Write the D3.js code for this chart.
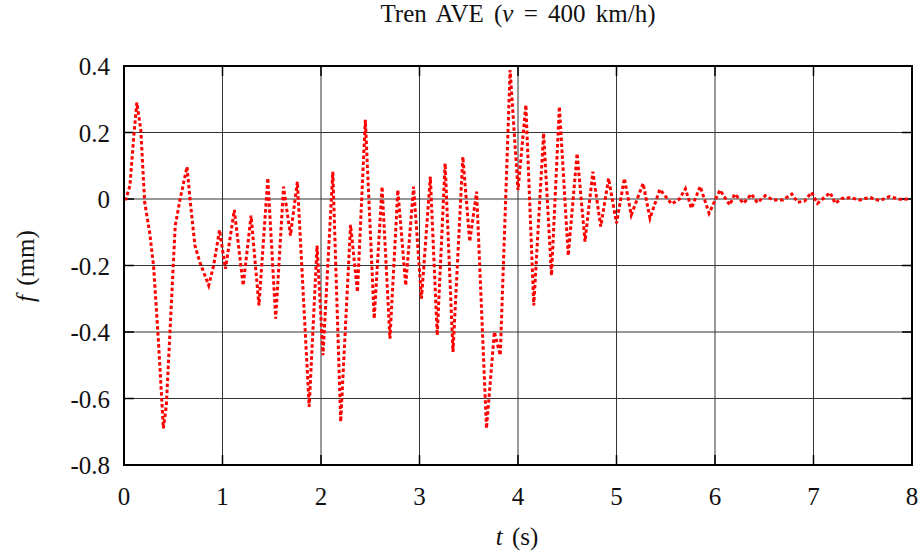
<!DOCTYPE html>
<html lang="es">
<head>
    <meta charset="UTF-8">
    <title>Tren AVE (v = 400 km/h)</title>
    <script src="https://cdnjs.cloudflare.com/ajax/libs/d3/7.8.5/d3.min.js"></script>
    <style>
        body {
            margin: 0;
            padding: 0;
            background-color: #fff;
        }
        svg text {
            font-family: "Liberation Serif", "DejaVu Serif", serif;
            fill: #111;
        }
        .grid line {
            stroke: #333;
            stroke-width: 1px;
        }
    </style>
</head>
<body>
    <div id="chart"></div>

    <script>
        // tiempo (s) y flecha (mm)
        const tiempos = [
            0, 0.02, 0.06, 0.10, 0.13, 0.17, 0.21, 0.26, 0.30, 0.35, 0.40, 0.43, 0.47, 0.52, 0.57, 0.64,
            0.67, 0.72, 0.77, 0.86, 0.91, 0.97, 1.03, 1.12, 1.21, 1.29, 1.37, 1.46, 1.54, 1.62, 1.69,
            1.76, 1.88, 1.96, 2.02, 2.12, 2.20, 2.30, 2.37, 2.45, 2.54, 2.62, 2.70, 2.78, 2.86, 2.94,
            3.02, 3.11, 3.18, 3.26, 3.34, 3.44, 3.51, 3.58, 3.68, 3.76, 3.82, 3.92, 4.00, 4.08, 4.16,
            4.26, 4.34, 4.42, 4.51, 4.60, 4.68, 4.76, 4.84, 4.92, 5.00, 5.08, 5.15, 5.27, 5.34, 5.44,
            5.56, 5.64, 5.70, 5.76, 5.85, 5.94, 6.05, 6.15, 6.20, 6.29, 6.37, 6.43, 6.51, 6.59, 6.69,
            6.78, 6.84, 6.91, 6.98, 7.04, 7.17, 7.22, 7.29, 7.37, 7.47, 7.57, 7.67, 7.77, 7.88, 7.98
        ];
        const flechas = [
            0, 0, 0.04, 0.19, 0.29, 0.21, -0.01, -0.1, -0.2, -0.43, -0.69, -0.62, -0.38, -0.08, 0.0, 0.097,
            0.0, -0.14, -0.19, -0.26, -0.2, -0.093, -0.21, -0.033, -0.26, -0.05, -0.32, 0.063, -0.36, 0.037, -0.11,
            0.052, -0.625, -0.14, -0.47, 0.082, -0.67, -0.078, -0.28, 0.238, -0.36, 0.037, -0.42, 0.027, -0.26, 0.037,
            -0.30, 0.067, -0.41, 0.107, -0.46, 0.127, -0.128, 0.022, -0.69, -0.40, -0.47, 0.388, 0.027, 0.283, -0.32,
            0.198, -0.23, 0.278, -0.17, 0.137, -0.128, 0.082, -0.083, 0.062, -0.073, 0.062, -0.048, 0.047, -0.058, 0.029,
            -0.015, 0, 0.031, -0.028, 0.038, -0.043, 0.027, -0.018, 0.015, -0.013, 0.015, -0.011, 0.01, -0.003, -0.003,
            0.015, -0.01, -0.006, 0.02, -0.013, 0.019, -0.013, 0.002, 0.004, -0.003, 0.005, -0.005, 0.007, -0.001, 0
        ];
        const ticksX = [0, 1, 2, 3, 4, 5, 6, 7, 8];
        const ticksY = [0.4, 0.2, 0, -0.2, -0.4, -0.6, -0.8];

        const width = 922;
        const height = 558;
        const margin = { top: 66, right: 10, bottom: 93, left: 124 };

        const svg = d3.select("#chart")
            .append("svg")
            .attr("width", width)
            .attr("height", height);

        const x = d3.scaleLinear().domain([0, 8]).range([margin.left, width - margin.right]);
        const y = d3.scaleLinear().domain([-0.8, 0.4]).range([height - margin.bottom, margin.top]);

        // rejilla
        const grid = svg.append("g").attr("class", "grid");
        grid.selectAll(".gx")
            .data(ticksX)
            .enter().append("line")
            .attr("x1", d => x(d)).attr("x2", d => x(d))
            .attr("y1", y(-0.8)).attr("y2", y(0.4));
        grid.selectAll(".gy")
            .data(ticksY)
            .enter().append("line")
            .attr("x1", x(0)).attr("x2", x(8))
            .attr("y1", d => y(d)).attr("y2", d => y(d));

        // marcas cortas en el borde (como gnuplot)
        const marcas = svg.append("g").attr("stroke", "#000").attr("stroke-width", 1.5);
        ticksX.forEach(d => {
            marcas.append("line").attr("x1", x(d)).attr("x2", x(d)).attr("y1", y(-0.8)).attr("y2", y(-0.8) - 10);
            marcas.append("line").attr("x1", x(d)).attr("x2", x(d)).attr("y1", y(0.4)).attr("y2", y(0.4) + 10);
        });
        ticksY.forEach(d => {
            marcas.append("line").attr("x1", x(0)).attr("x2", x(0) + 10).attr("y1", y(d)).attr("y2", y(d));
            marcas.append("line").attr("x1", x(8)).attr("x2", x(8) - 10).attr("y1", y(d)).attr("y2", y(d));
        });

        // curva
        const datos = tiempos.map((t, i) => ({ t: t, f: flechas[i] }));
        const linea = d3.line().x(d => x(d.t)).y(d => y(d.f));

        svg.append("path")
            .datum(datos)
            .attr("d", linea)
            .attr("fill", "none")
            .attr("stroke", "#ff0000")
            .attr("stroke-width", 3)
            .attr("stroke-dasharray", "3.5,2.5")
            .attr("stroke-linejoin", "miter");

        // marco
        svg.append("rect")
            .attr("x", x(0)).attr("y", y(0.4))
            .attr("width", x(8) - x(0))
            .attr("height", y(-0.8) - y(0.4))
            .attr("fill", "none")
            .attr("stroke", "#000")
            .attr("stroke-width", 2);

        // etiquetas de los ejes
        svg.selectAll(".lx")
            .data(ticksX)
            .enter().append("text")
            .attr("x", d => x(d))
            .attr("y", 505)
            .attr("text-anchor", "middle")
            .style("font-size", "25px")
            .text(d => d);

        svg.selectAll(".ly")
            .data(ticksY)
            .enter().append("text")
            .attr("x", 110)
            .attr("y", d => y(d) + 9)
            .attr("text-anchor", "end")
            .style("font-size", "25px")
            .text(d => d === 0 ? "0" : d3.format(".1f")(d).replace("−", "-"));

        // título
        const titulo = svg.append("text")
            .attr("x", 518)
            .attr("y", 22)
            .attr("text-anchor", "middle")
            .style("font-size", "25px")
            .style("word-spacing", "4px");
        titulo.append("tspan").text("Tren AVE (");
        titulo.append("tspan").style("font-style", "italic").text("v");
        titulo.append("tspan").text(" = 400 km/h)");

        const tx = svg.append("text")
            .attr("x", 517)
            .attr("y", 545)
            .attr("text-anchor", "middle")
            .style("font-size", "25px")
            .style("word-spacing", "3px");
        tx.append("tspan").style("font-style", "italic").text("t");
        tx.append("tspan").text(" (s)");

        const ty = svg.append("text")
            .attr("transform", "translate(34,266) rotate(-90)")
            .attr("text-anchor", "middle")
            .style("font-size", "25px")
            .style("word-spacing", "3px");
        ty.append("tspan").style("font-style", "italic").text("f");
        ty.append("tspan").text(" (mm)");
    </script>
</body>
</html>
